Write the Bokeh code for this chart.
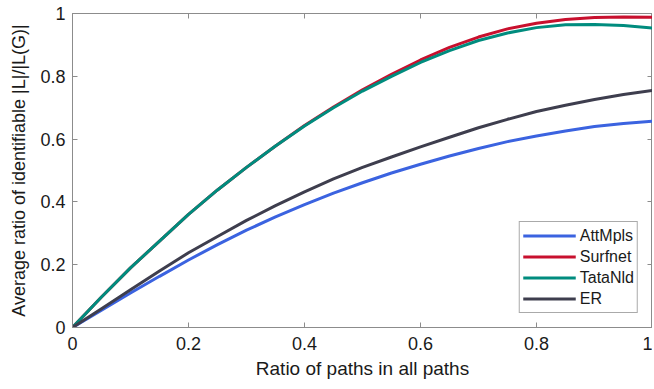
from bokeh.plotting import figure
from bokeh.models import LinearAxis, FixedTicker, Range1d, Legend, LegendItem
from bokeh.embed import file_html
from bokeh.resources import INLINE

x = [0.0, 0.05, 0.1, 0.15, 0.2, 0.25, 0.3, 0.35, 0.4, 0.45, 0.5,
     0.55, 0.6, 0.65, 0.7, 0.75, 0.8, 0.85, 0.9, 0.95, 1.0]
attmpls = [0.0, 0.055, 0.11, 0.163, 0.215, 0.264, 0.31, 0.352, 0.391, 0.428, 0.461,
           0.492, 0.52, 0.546, 0.57, 0.592, 0.61, 0.626, 0.64, 0.65, 0.657]
surfnet = [0.0, 0.097, 0.19, 0.275, 0.36, 0.438, 0.51, 0.578, 0.643, 0.702, 0.757,
           0.806, 0.852, 0.892, 0.925, 0.951, 0.969, 0.981, 0.987, 0.989, 0.988]
tatanld = [0.0, 0.097, 0.19, 0.275, 0.36, 0.438, 0.51, 0.578, 0.642, 0.70, 0.753,
           0.80, 0.844, 0.882, 0.914, 0.938, 0.955, 0.964, 0.965, 0.962, 0.954]
er = [0.0, 0.06, 0.12, 0.18, 0.238, 0.29, 0.341, 0.388, 0.432, 0.473, 0.51,
      0.543, 0.575, 0.606, 0.636, 0.663, 0.688, 0.708, 0.726, 0.742, 0.755]

series_names = ["AttMpls", "Surfnet", "TataNld", "ER"]
series_values = [attmpls, surfnet, tatanld, er]
series_colors = ["#3b63e0", "#c8102e", "#008c7e", "#3e3e4e"]

tick_values = [0, 0.2, 0.4, 0.6, 0.8, 1]
tick_labels = ["0", "0.2", "0.4", "0.6", "0.8", "1"]

FONT = "Liberation Sans"

p = figure(width=652, height=387, output_backend="svg", toolbar_location=None,
           x_range=Range1d(0, 1), y_range=Range1d(0, 1),
           min_border_left=72, min_border_right=0, min_border_top=13, min_border_bottom=60)
p.grid.visible = False
p.outline_line_color = "#8c8c8c"
p.outline_line_width = 1
p.background_fill_color = "white"
p.border_fill_color = "white"

def style_axis(ax, show_labels):
    ax.ticker = FixedTicker(ticks=tick_values)
    ax.minor_tick_line_color = None
    ax.major_tick_in = 5
    ax.major_tick_out = 0
    ax.axis_line_color = "#8c8c8c"
    ax.major_tick_line_color = "#8c8c8c"
    ax.major_label_text_font = FONT
    ax.major_label_text_color = "#1a1a1a"
    ax.major_label_text_font_size = "18px"
    if show_labels:
        ax.major_label_overrides = {v: t for v, t in zip(tick_values, tick_labels)}
    else:
        ax.major_label_overrides = {v: "" for v in tick_values}
        ax.major_label_standoff = 0

style_axis(p.xaxis[0], True)
style_axis(p.yaxis[0], True)
p.xaxis[0].major_label_standoff = 9
p.yaxis[0].major_label_standoff = 7
p.xaxis[0].axis_label = "Ratio of paths in all paths"
p.yaxis[0].axis_label = "Average ratio of identifiable |L|/|L(G)|"
for ax in (p.xaxis[0], p.yaxis[0]):
    ax.axis_label_text_font = FONT
    ax.axis_label_text_font_style = "normal"
    ax.axis_label_text_color = "#1a1a1a"
p.xaxis[0].axis_label_text_font_size = "19px"
p.yaxis[0].axis_label_text_font_size = "18px"
p.xaxis[0].axis_label_standoff = 5
p.yaxis[0].axis_label_standoff = 8

top = LinearAxis()
right = LinearAxis()
style_axis(top, False)
style_axis(right, False)
p.add_layout(top, "above")
p.add_layout(right, "right")

items = []
for name, vals, col in zip(series_names, series_values, series_colors):
    r = p.line(x, vals, line_color=col, line_width=3)
    items.append(LegendItem(label=name, renderers=[r]))

legend = Legend(items=items, location="bottom_right")
legend.glyph_width = 53
legend.glyph_height = 21
legend.label_height = 21
legend.spacing = 0
legend.padding = 3
legend.margin = 14
legend.label_text_font = FONT
legend.label_text_font_size = "16px"
legend.label_text_color = "#1a1a1a"
legend.label_standoff = 4
legend.border_line_color = "#555555"
legend.border_line_width = 1
legend.background_fill_alpha = 1
p.add_layout(legend, "center")

open("out.html", "w").write(file_html(p, INLINE))
